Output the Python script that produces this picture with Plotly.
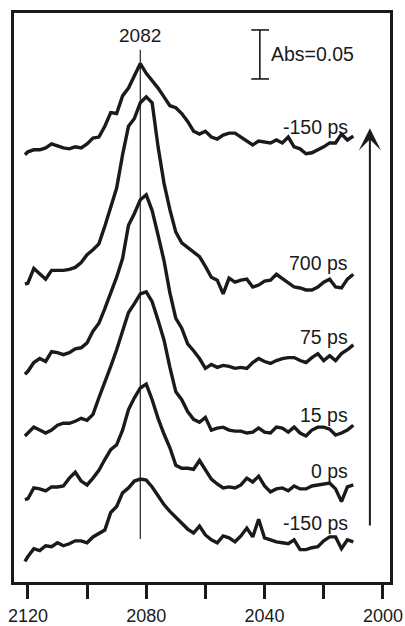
import plotly.graph_objects as go

# ---------------- data ----------------
WAVENUMBER = [2121] + list(range(2120, 2009, -2))  # cm-1, 57 points

DELAY_LABELS = ["-150 ps", "0 ps", "15 ps", "75 ps", "700 ps", "-150 ps"]
OFFSETS_MABS = [38, 96, 155, 226, 305, 446]  # vertical stacking offsets (mAbs)

# absorbance relative to each trace baseline (mAbs), bottom to top
SPEC_M150_FIRST = [-17, -12, -4, -6, -1, -2, 2, -1, 1, 4,
                   4, 2, 8, 12, 15, 33, 39, 53, 58, 65,
                   67, 66, 59, 50, 41, 34, 28, 22, 16, 12,
                   19, 10, 5, 2, 9, 7, 3, 9, 17, 8,
                   26, 7, 5, 3, 2, 1, 5, -5, -5, -3,
                   -2, 4, 8, 8, -4, 5, 3]
SPEC_0 = [-12, -11, 0, -1, -3, 1, 1, 2, 10, 16,
          7, 3, 10, 18, 29, 39, 44, 59, 80, 92,
          102, 106, 90, 71, 55, 41, 23, 20, 20, 19,
          28, 18, 9, 4, 0, 1, 0, 3, 10, 6,
          12, 2, -4, -1, 0, -3, 2, -1, -1, 2,
          3, 4, 5, -1, -14, 1, 3]
SPEC_15 = [-6, -3, 3, 0, -3, 0, 5, 7, 7, 9,
           12, 10, 16, 33, 48, 65, 82, 102, 120, 129,
           139, 141, 131, 112, 92, 64, 39, 31, 19, 11,
           8, 13, 0, 2, 3, 0, -1, -1, -3, -2,
           2, -2, -3, 3, 2, -2, 3, -3, -6, 0,
           3, 3, 1, -5, -3, 0, 5]
SPEC_75 = [-14, -11, -2, 2, -1, 9, 8, 6, 8, 12,
           13, 18, 30, 38, 53, 68, 85, 104, 138, 150,
           164, 169, 153, 128, 102, 69, 43, 33, 17, 10,
           2, -8, -4, -7, -5, -6, -8, -7, -8, -2,
           2, -1, -3, 0, 2, 3, 3, 0, -2, 3,
           7, 0, 5, 0, 7, 11, 16]
SPEC_700 = [-1, 0, 15, 10, 4, 13, 13, 13, 14, 16,
            21, 29, 34, 40, 58, 77, 97, 131, 160, 168,
            184, 190, 184, 139, 102, 75, 52, 41, 36, 31,
            27, 17, 6, 3, -11, 5, 1, 3, 4, -4,
            -2, 2, 3, 9, 5, 0, -4, -5, -7, -7,
            -4, 1, 4, -4, -5, 4, 9]
SPEC_M150_LAST = [-10, -7, -5, -5, -3, 1, -1, -3, -4, -2,
                  -3, 1, 7, 8, 19, 33, 32, 50, 58, 70,
                  83, 73, 66, 58, 49, 40, 38, 32, 24, 14,
                  11, 14, 8, 6, 10, 12, 12, 8, 3, 0,
                  4, 3, 2, 5, 2, 8, -2, -4, -9, -8,
                  -5, -2, 2, 2, 11, 5, 9]

SPECTRA = [SPEC_M150_FIRST, SPEC_0, SPEC_15, SPEC_75, SPEC_700, SPEC_M150_LAST]

PEAK_WAVENUMBER = 2082
SCALE_BAR_MABS = 50
X_TICKS = [2120, 2100, 2080, 2060, 2040, 2020, 2000]
X_TICK_TEXT = ["2120", "", "2080", "", "2040", "", "2000"]

# ---------------- figure ----------------
FONT = "Liberation Sans, Arial, Helvetica, sans-serif"
INK = "#1a1a1a"

fig = go.Figure()
for spec, off in zip(SPECTRA, OFFSETS_MABS):
    fig.add_trace(go.Scatter(
        x=WAVENUMBER, y=[v + off for v in spec], mode="lines",
        line=dict(color=INK, width=3.4), showlegend=False, hoverinfo="skip"))

# vertical marker at peak
fig.add_shape(type="line", x0=PEAK_WAVENUMBER, x1=PEAK_WAVENUMBER, y0=44, y1=543,
              line=dict(color="#333333", width=1.3), layer="below")
fig.add_annotation(x=PEAK_WAVENUMBER, y=558, text=str(PEAK_WAVENUMBER), showarrow=False,
                   font=dict(family=FONT, size=19, color=INK), xanchor="center", yanchor="middle")

# scale bar
sb_x, sb_y0 = 2041.6, 513.3
fig.add_shape(type="line", x0=sb_x, x1=sb_x, y0=sb_y0, y1=sb_y0 + SCALE_BAR_MABS,
              line=dict(color=INK, width=1.6))
for yy in (sb_y0, sb_y0 + SCALE_BAR_MABS):
    fig.add_shape(type="line", x0=sb_x + 2.9, x1=sb_x - 3.1, y0=yy, y1=yy,
                  line=dict(color=INK, width=1.6))
fig.add_annotation(x=2038.5, y=sb_y0 + SCALE_BAR_MABS / 2, text="Abs=0.05", showarrow=False,
                   font=dict(family=FONT, size=19.5, color=INK), xanchor="left", yanchor="middle")

# delay labels
LABEL_Y = [60, 113, 170, 250, 326, 464]
for lab, ly in zip(DELAY_LABELS, LABEL_Y):
    fig.add_annotation(x=2011, y=ly, text=lab, showarrow=False,
                       font=dict(family=FONT, size=19.5, color=INK), xanchor="right", yanchor="middle")

# time arrow
fig.add_annotation(x=2004.4, y=463, ax=2004.4, ay=56, xref="x", yref="y", axref="x", ayref="y",
                   text="", showarrow=True, arrowhead=3, arrowsize=1.85, arrowwidth=2,
                   arrowcolor=INK)

fig.update_layout(
    width=405, height=626,
    margin=dict(l=14, r=15, t=13, b=44, autoexpand=False),
    paper_bgcolor="white", plot_bgcolor="white",
    xaxis=dict(range=[2124.7, 1997.6], tickvals=X_TICKS, ticktext=X_TICK_TEXT,
               ticks="outside", ticklen=14, tickwidth=3, tickcolor=INK,
               showline=True, mirror=True, linewidth=3, linecolor=INK,
               showgrid=False, zeroline=False, automargin=False,
               ticklabelstandoff=1,
               tickfont=dict(family=FONT, size=18, color=INK)),
    yaxis=dict(range=[0, 580.6], showticklabels=False, ticks="",
               showline=True, mirror=True, linewidth=3, linecolor=INK,
               showgrid=False, zeroline=False, automargin=False),
)

fig.write_html("out.html",
               config={"displayModeBar": False},
               post_script="document.body.style.margin='0';document.body.style.overflow='hidden';")
